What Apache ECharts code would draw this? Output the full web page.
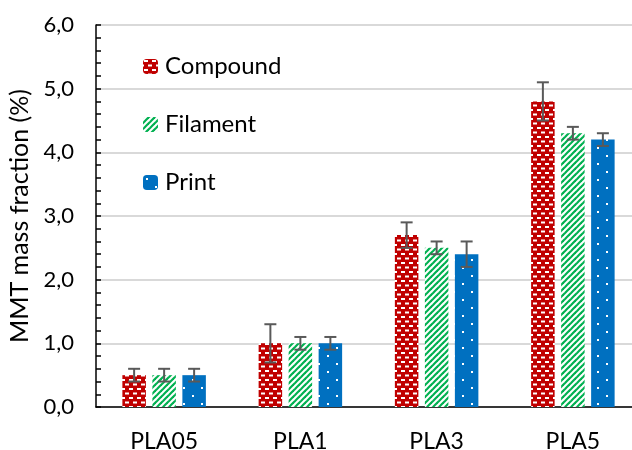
<!DOCTYPE html>
<html><head><meta charset="utf-8">
<script src="https://cdn.jsdelivr.net/npm/echarts@6/dist/echarts.min.js"></script>
<style>html,body{margin:0;padding:0;background:#fff}#c{width:632px;height:450px}</style>
</head><body><div id="c"></div>
<script>
const categories = ['PLA05', 'PLA1', 'PLA3', 'PLA5'];
const seriesNames = ['Compound', 'Filament', 'Print'];
const compound = [0.5, 1.0, 2.7, 4.8];
const compoundErr = [0.1, 0.3, 0.2, 0.3];
const filament = [0.5, 1.0, 2.5, 4.3];
const filamentErr = [0.1, 0.1, 0.1, 0.1];
const print = [0.5, 1.0, 2.4, 4.2];
const printErr = [0.1, 0.1, 0.2, 0.1];
const yMin = 0, yMax = 6, yStep = 1;

const FONT = 'Lato, "Liberation Sans", sans-serif';

function tile(w, h, draw) {
  const c = document.createElement('canvas');
  c.width = w; c.height = h;
  draw(c.getContext('2d'));
  return c;
}
const redTile = tile(8, 9, ctx => {
  ctx.fillStyle = '#C00000'; ctx.fillRect(0, 0, 8, 9);
  ctx.fillStyle = '#ffffff';
  ctx.fillRect(1, 1, 4, 2);
  ctx.fillRect(5, 5.5, 3, 2); ctx.fillRect(0, 5.5, 1, 2);
});
const greenTile = tile(6, 6, ctx => {
  ctx.fillStyle = '#ffffff'; ctx.fillRect(0, 0, 6, 6);
  ctx.strokeStyle = '#00B050'; ctx.lineWidth = 2.2;
  [0, 6, 12].forEach(k => { ctx.beginPath(); ctx.moveTo(k + 1, -1); ctx.lineTo(k - 7, 7); ctx.stroke(); });
});
const blueTile = tile(18, 16, ctx => {
  ctx.fillStyle = '#0070C0'; ctx.fillRect(0, 0, 18, 16);
  ctx.fillStyle = '#ffffff';
  ctx.fillRect(3, 3, 2, 2);
  ctx.fillRect(12, 11, 2, 2);
});
const fills = [
  { image: redTile, repeat: 'repeat' },
  { image: greenTile, repeat: 'repeat' },
  { image: blueTile, repeat: 'repeat' }
];

const BAR_W = 23.5, BAR_GAP = 6.5;
const values = [compound, filament, print];
const errs = [compoundErr, filamentErr, printErr];

const barSeries = seriesNames.map((n, i) => ({
  name: n, type: 'bar', data: values[i],
  barWidth: BAR_W, barGap: (BAR_GAP / BAR_W * 100) + '%',
  itemStyle: { color: fills[i] }
}));

const errSeries = seriesNames.map((n, i) => ({
  type: 'custom', name: n + '_err', z: 5,
  data: values[i].map((v, j) => [j, v - errs[i][j], v + errs[i][j]]),
  renderItem: function (params, api) {
    const x = api.value(0);
    const top = api.coord([x, api.value(2)]);
    const bot = api.coord([x, api.value(1)]);
    const cx = top[0] + (i - 1) * (BAR_W + BAR_GAP);
    const st = { stroke: '#595959', lineWidth: 2 };
    return { type: 'group', children: [
      { type: 'line', shape: { x1: cx, y1: top[1], x2: cx, y2: bot[1] }, style: st },
      { type: 'line', shape: { x1: cx - 6, y1: top[1], x2: cx + 6, y2: top[1] }, style: st },
      { type: 'line', shape: { x1: cx - 6, y1: bot[1], x2: cx + 6, y2: bot[1] }, style: st }
    ]};
  }
}));

const chart = echarts.init(document.getElementById('c'), null, { renderer: 'canvas' });
chart.setOption({
  animation: false,
  textStyle: { fontFamily: FONT },
  grid: { left: 96, top: 25, width: 545, height: 382, containLabel: false, outerBoundsMode: 'none' },
  legend: {
    data: seriesNames, orient: 'vertical', left: 143, top: 53.5, itemGap: 32, padding: 0,
    itemWidth: 15, itemHeight: 15,
    textStyle: { fontFamily: FONT, fontSize: 24, color: '#000', lineHeight: 26, padding: [0, 0, 0, 2] }
  },
  xAxis: {
    type: 'category', data: categories,
    axisLine: { lineStyle: { color: '#000', width: 1.5 } },
    axisTick: { show: false },
    axisLabel: { fontFamily: FONT, fontSize: 23, color: '#000', margin: 23 }
  },
  yAxis: {
    type: 'value', min: yMin, max: yMax, interval: yStep,
    name: 'MMT mass fraction (%)', nameLocation: 'middle', nameGap: 58,
    nameTextStyle: { fontFamily: FONT, fontSize: 25, color: '#000' },
    axisLine: { show: true, lineStyle: { color: '#000', width: 1.5 } },
    axisTick: { show: true, inside: true, length: 5, lineStyle: { color: '#000', width: 1.5 } },
    minorTick: { show: true, splitNumber: 5, length: 5, lineStyle: { color: '#000', width: 1.5 } },
    splitLine: { lineStyle: { color: '#d9d9d9', width: 2 } },
    axisLabel: { fontFamily: FONT, fontSize: 22, color: '#000', margin: 22,
      formatter: v => v.toFixed(1).replace('.', ',') }
  },
  series: barSeries.concat(errSeries)
});
</script></body></html>
